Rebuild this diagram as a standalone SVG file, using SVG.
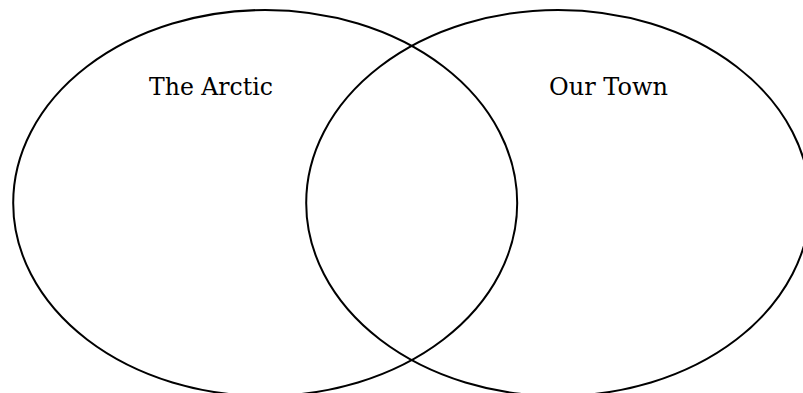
<svg xmlns="http://www.w3.org/2000/svg" width="803" height="393" viewBox="0 0 803 393">
<style>
.c{fill:none;stroke:#000;stroke-width:2}
.t{font-family:"DejaVu Serif","Liberation Serif",serif;font-size:24px;fill:#000}
</style>
<rect width="803" height="393" fill="#fff"/>
<g id="arctic"><ellipse class="c" cx="265.2" cy="203" rx="252" ry="193"/><text class="t" x="149" y="95" textLength="124" lengthAdjust="spacingAndGlyphs">The Arctic</text></g>
<g id="town"><ellipse class="c" cx="558.2" cy="203" rx="252" ry="193"/><text class="t" x="549" y="95" textLength="119" lengthAdjust="spacingAndGlyphs">Our Town</text></g>
<g id="connectors"/>
</svg>
